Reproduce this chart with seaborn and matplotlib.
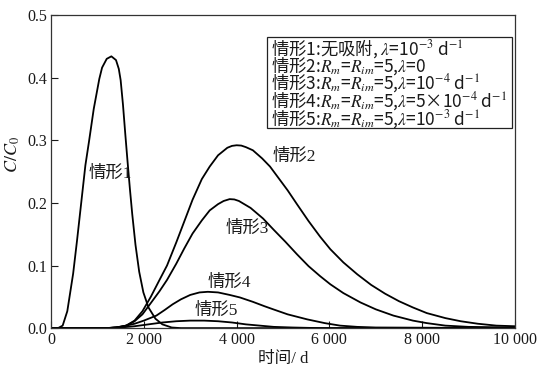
#!/usr/bin/env python3
"""Breakthrough curves C/C0 for five adsorption / decay cases."""

import matplotlib as mpl
import matplotlib.pyplot as plt
from matplotlib.patches import Rectangle
import seaborn as sns

# case 1: no adsorption, lambda = 1e-3
T1 = [0, 150, 250, 350, 476, 560, 650, 740, 822, 920, 1040, 1100, 1200, 1300, 1400, 1460,
      1500, 1550, 1600, 1650, 1700, 1750, 1820, 1900, 1990, 2100, 2250, 2400, 2600, 2800, 10000]
C1 = [0, 0, 0.004, 0.027, 0.087, 0.14, 0.20, 0.26, 0.30, 0.35, 0.398, 0.416, 0.430, 0.434, 0.428, 0.414,
      0.396, 0.357, 0.31, 0.265, 0.222, 0.182, 0.133, 0.09, 0.057, 0.033, 0.015, 0.006, 0.001, 0, 0]

# case 2: Rm = Rim = 5, lambda = 0
T2 = [0, 1200, 1400, 1620, 1800, 1970, 2150, 2338, 2500, 2700, 2870, 3050, 3250, 3420, 3600,
      3800, 3900, 4000, 4100, 4200, 4350, 4550, 4720, 4900, 5100, 5300, 5550, 5800, 6020, 6300,
      6600, 6900, 7200, 7500, 7800, 8100, 8500, 8830, 9200, 9600, 10000]
C2 = [0, 0, 0.001, 0.004, 0.012, 0.027, 0.05, 0.077, 0.10, 0.137, 0.17, 0.205, 0.238, 0.258, 0.276,
      0.288, 0.291, 0.292, 0.2915, 0.289, 0.284, 0.271, 0.258, 0.24, 0.22, 0.198, 0.171, 0.146, 0.126, 0.105,
      0.086, 0.069, 0.055, 0.043, 0.033, 0.024, 0.016, 0.011, 0.007, 0.004, 0.003]

# case 3: lambda = 1e-4
T3 = [0, 1200, 1400, 1620, 1800, 1970, 2150, 2338, 2500, 2700, 2870, 3050, 3250, 3420, 3600,
      3720, 3850, 3950, 4050, 4300, 4570, 4800, 5050, 5300, 5550, 5800, 6020, 6300, 6670, 7000,
      7380, 7800, 8100, 8500, 9000, 10000]
C3 = [0, 0, 0.001, 0.004, 0.011, 0.022, 0.04, 0.059, 0.077, 0.103, 0.127, 0.151, 0.172, 0.188, 0.198,
      0.203, 0.206, 0.2055, 0.203, 0.192, 0.175, 0.157, 0.138, 0.118, 0.099, 0.083, 0.070, 0.056, 0.041, 0.030,
      0.020, 0.012, 0.008, 0.004, 0.002, 0.001]

# case 4: lambda = 5e-4
T4 = [0, 1200, 1500, 1800, 2000, 2270, 2450, 2620, 2800, 3000, 3200, 3380, 3600, 3850, 4070,
      4350, 4600, 4790, 5100, 5520, 5900, 6230, 6600, 7000, 10000]
C4 = [0, 0, 0.002, 0.007, 0.012, 0.020, 0.029, 0.038, 0.046, 0.053, 0.057, 0.058, 0.057, 0.053, 0.049,
      0.042, 0.035, 0.030, 0.022, 0.014, 0.008, 0.004, 0.002, 0.001, 0]

# case 5: lambda = 1e-3
T5 = [0, 1200, 1500, 1800, 2100, 2400, 2700, 3000, 3300, 3600, 3900, 4200, 4500, 4800, 5200, 5800, 10000]
C5 = [0, 0, 0.001, 0.003, 0.006, 0.009, 0.011, 0.012, 0.012, 0.011, 0.009, 0.006, 0.004, 0.002, 0.001, 0, 0]

CURVE_LABELS = ["情形1", "情形2", "情形3", "情形4", "情形5"]
LABEL_X = [1270, 5250, 4230, 3850, 3570]
LABEL_Y = [0.246, 0.273, 0.159, 0.072, 0.028]

BOX_LINES = [
    r"情形1:无吸附, $\lambda$=10$^{-3}$ d$^{-1}$",
    r"情形2:$R_m$=$R_{im}$=5,$\lambda$=0",
    r"情形3:$R_m$=$R_{im}$=5,$\lambda$=10$^{-4}$ d$^{-1}$",
    r"情形4:$R_m$=$R_{im}$=5,$\lambda$=5×10$^{-4}$ d$^{-1}$",
    r"情形5:$R_m$=$R_{im}$=5,$\lambda$=10$^{-3}$ d$^{-1}$",
]

X_TICKS = [0, 2000, 4000, 6000, 8000, 10000]
X_TICKLABELS = ["0", "2 000", "4 000", "6 000", "8 000", "10 000"]
Y_TICKS = [0.0, 0.1, 0.2, 0.3, 0.4, 0.5]

INK = "#1a1a1a"


def main() -> None:
    sns.set_style("ticks")
    mpl.rcParams.update(
        {
            "font.family": ["Liberation Serif", "Noto Sans CJK SC"],
            "mathtext.fontset": "stix",
            "font.size": 11.5,
            "axes.linewidth": 0.9,
            "axes.edgecolor": "#333333",
            "xtick.direction": "in",
            "ytick.direction": "in",
            "xtick.major.size": 5,
            "ytick.major.size": 5,
            "xtick.color": INK,
            "ytick.color": INK,
        }
    )

    fig = plt.figure(figsize=(5.49, 3.75), dpi=100)
    ax = fig.add_axes([0.093, 0.125, 0.845, 0.835])

    for t, c in zip([T1, T2, T3, T4, T5], [C1, C2, C3, C4, C5]):
        sns.lineplot(x=t, y=c, color="black", linewidth=1.3, sort=False, ax=ax)

    for label, lx, ly in zip(CURVE_LABELS, LABEL_X, LABEL_Y):
        ax.text(lx, ly, label, ha="center", va="center", fontsize=12.5, color=INK)

    # legend-like box drawn separately so its height does not follow the font's descent
    ax.add_patch(Rectangle((0.466, 0.638), 0.527, 0.292, transform=ax.transAxes,
                           fc="white", ec="#222222", lw=0.9, zorder=3))
    # CJK font first so the plain parts of the mathtext lines find their glyphs
    ax.text(
        0.474, 0.929, "\n".join(BOX_LINES),
        transform=ax.transAxes, ha="left", va="top", fontsize=12.5, color=INK,
        family=["Noto Sans CJK SC"], linespacing=0.72, zorder=4,
    )

    ax.set_xlim(0, 10000)
    ax.set_ylim(0, 0.5)
    ax.set_xticks(X_TICKS, X_TICKLABELS)
    ax.set_yticks(Y_TICKS, [f"{v:.1f}" for v in Y_TICKS])
    ax.tick_params(axis="both", labelsize=11.5, pad=3)
    ax.set_xlabel("时间/ d", fontsize=12, color=INK, labelpad=2)
    ax.set_ylabel(r"$C/C_0$", fontsize=13, color=INK)
    ax.yaxis.set_label_coords(-0.062, 0.553)

    fig.savefig("out.png", dpi=100)
    plt.close(fig)


if __name__ == "__main__":
    main()
